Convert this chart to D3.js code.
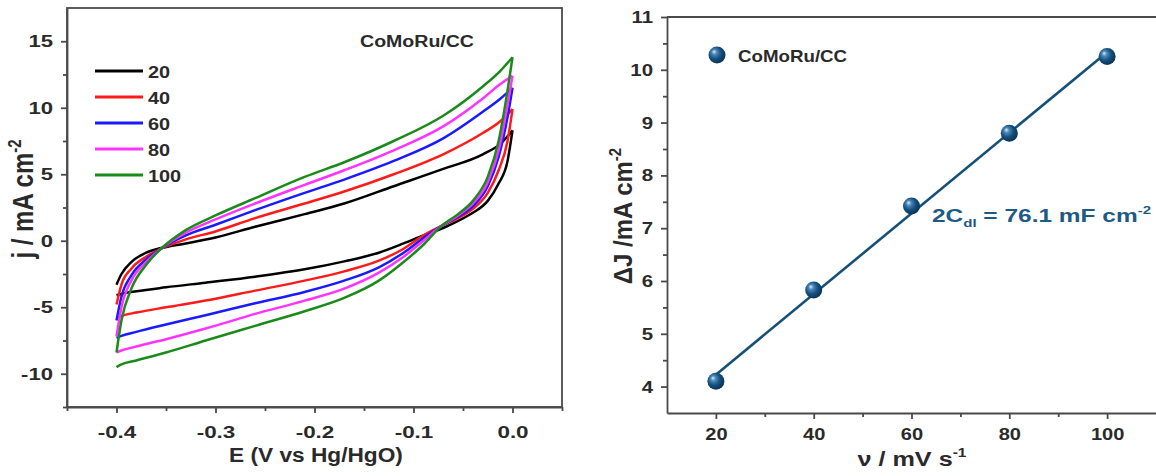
<!DOCTYPE html>
<html>
<head>
<meta charset="utf-8">
<script src="https://cdn.jsdelivr.net/npm/d3@7"></script>
<style>
  body { margin: 0; background: #fff; }
  svg { display: block; font-family: Arial, "Liberation Sans", sans-serif; font-weight: bold; }
  .axis path, .axis line { stroke: #4a4a4a; stroke-width: 1.8; }
  .axis text { fill: #2a2a2a; font-size: 17px; font-weight: bold; font-family: Arial, "Liberation Sans", sans-serif; }
</style>
</head>
<body>
<svg id="canvas" width="1156" height="476"></svg>
<script>
// ---- left panel: CV curves at different scan rates (mV/s) ----
const RATES = [20, 40, 60, 80, 100]
const COLORS = ['#000000', '#ff1a1a', '#1a1aff', '#ff33ff', '#1a8a1a']

// potential grid for the anodic (forward) and cathodic (reverse) branches
const E_FWD = [-0.4, -0.395, -0.385, -0.37, -0.355, -0.33, -0.3, -0.26, -0.21, -0.17, -0.12, -0.07, -0.03, -0.012, 0]
const E_REV = [0, -0.005, -0.014, -0.025, -0.04, -0.055, -0.072, -0.09, -0.11, -0.135, -0.17, -0.21, -0.26, -0.31, -0.35, -0.38, -0.395, -0.4]

const J_FWD_20  = [-3.3, -2.5, -1.6, -0.9, -0.55, -0.2, 0.25, 1.05, 2.0, 2.8, 4.1, 5.4, 6.5, 7.3, 8.3]
const J_FWD_40  = [-4.8, -3.3, -2.1, -1.2, -0.6, 0.1, 0.7, 1.7, 2.8, 3.7, 5.0, 6.5, 8.1, 9.0, 9.9]
const J_FWD_60  = [-6.0, -4.2, -2.6, -1.4, -0.6, 0.4, 1.2, 2.3, 3.6, 4.6, 6.0, 7.7, 9.7, 10.7, 11.5]
const J_FWD_80  = [-7.2, -5.0, -3.0, -1.6, -0.6, 0.6, 1.6, 2.8, 4.2, 5.3, 6.8, 8.6, 10.7, 11.8, 12.4]
const J_FWD_100 = [-8.4, -6.0, -3.6, -1.8, -0.6, 0.8, 1.9, 3.2, 4.8, 5.9, 7.5, 9.4, 11.6, 12.8, 13.8]

const J_REV_20  = [8.3, 6.0, 4.3, 3.0, 2.1, 1.5, 0.9, 0.4, -0.2, -0.9, -1.55, -2.15, -2.7, -3.15, -3.5, -3.8, -4.0, -4.1]
const J_REV_40  = [9.9, 7.5, 5.3, 3.6, 2.4, 1.7, 1.1, 0.4, -0.6, -1.5, -2.3, -3.0, -3.75, -4.5, -5.0, -5.4, -5.65, -5.8]
const J_REV_60  = [11.5, 9.3, 6.3, 4.1, 2.6, 1.8, 1.1, 0.2, -0.9, -2.0, -3.0, -3.85, -4.7, -5.6, -6.3, -6.85, -7.15, -7.3]
const J_REV_80  = [12.4, 10.2, 6.8, 4.4, 2.8, 1.9, 1.1, 0.0, -1.2, -2.4, -3.6, -4.5, -5.5, -6.6, -7.4, -7.95, -8.25, -8.4]
const J_REV_100 = [13.8, 11.3, 7.5, 4.8, 3.0, 2.0, 1.1, -0.3, -1.6, -3.0, -4.3, -5.3, -6.4, -7.5, -8.4, -9.0, -9.3, -9.5]

const J_FWD = [J_FWD_20, J_FWD_40, J_FWD_60, J_FWD_80, J_FWD_100]
const J_REV = [J_REV_20, J_REV_40, J_REV_60, J_REV_80, J_REV_100]

// ---- right panel: capacitive current vs scan rate ----
const SCAN_RATES = [20, 40, 60, 80, 100]
const DELTA_J = [4.1, 5.83, 7.42, 8.8, 10.25]

let canvas = d3.select('#canvas')

let defs = canvas.append('defs')
let grad = defs.append('radialGradient')
    .attr('id', 'ball')
    .attr('cx', '42%').attr('cy', '42%').attr('r', '60%')
    .attr('fx', '32%').attr('fy', '30%')
grad.append('stop').attr('offset', '0%').attr('stop-color', '#dcebf6')
grad.append('stop').attr('offset', '25%').attr('stop-color', '#4a88b8')
grad.append('stop').attr('offset', '60%').attr('stop-color', '#145180')
grad.append('stop').attr('offset', '100%').attr('stop-color', '#0a3152')

// text stretched horizontally like the (widened) source figure
let label = (parent, x, y, size, sx, anchor, fill) => {
    return parent.append('text')
        .attr('transform', 'translate(' + x + ',' + y + ') scale(' + sx + ',1)')
        .attr('text-anchor', anchor)
        .attr('font-size', size)
        .attr('fill', fill || '#2a2a2a')
}

let stretchTicks = (axisG, sx, isLeft) => {
    axisG.selectAll('.tick text')
        .attr('transform', 'scale(' + sx + ',1)')
        .attr('x', function () {
            return isLeft ? +this.getAttribute('x') / sx : 0
        })
}

let minorTicks = (g, axisFn, scale, values, size) => {
    g.append('g')
        .attr('class', 'axis')
        .call(axisFn(scale).tickValues(values).tickSize(size).tickFormat('').tickSizeOuter(0))
        .select('.domain').remove()
}

let drawCV = () => {
    let x = d3.scaleLinear().domain([-0.45, 0.05]).range([67, 562])
    let y = d3.scaleLinear().domain([-12.5, 17.5]).range([407, 8])
    let g = canvas.append('g')

    // frame
    g.append('rect')
        .attr('x', x.range()[0]).attr('y', y.range()[1])
        .attr('width', x.range()[1] - x.range()[0])
        .attr('height', y.range()[0] - y.range()[1])
        .attr('fill', 'none').attr('stroke', '#4a4a4a').attr('stroke-width', 1.8)

    let xAxis = g.append('g').attr('transform', 'translate(0,' + y.range()[0] + ')')
    let xa = xAxis.append('g').attr('class', 'axis')
        .call(d3.axisBottom(x).tickValues([-0.4, -0.3, -0.2, -0.1, 0.0]).tickSize(6).tickSizeOuter(0)
            .tickPadding(13).tickFormat(d => d.toFixed(1)))
    stretchTicks(xa, 1.32, false)
    minorTicks(xAxis, d3.axisBottom, x, [-0.45, -0.35, -0.25, -0.15, -0.05, 0.05], 4)

    let yAxis = g.append('g').attr('transform', 'translate(' + x.range()[0] + ',0)')
    let ya = yAxis.append('g').attr('class', 'axis')
        .call(d3.axisLeft(y).tickValues([-10, -5, 0, 5, 10, 15]).tickSize(6).tickSizeOuter(0)
            .tickPadding(8).tickFormat(d => String(d)))
    stretchTicks(ya, 1.3, true)
    minorTicks(yAxis, d3.axisLeft, y, [-12.5, -7.5, -2.5, 2.5, 7.5, 12.5], 4)

    let line = d3.line()
        .x(d => x(d[0]))
        .y(d => y(d[1]))
        .curve(d3.curveMonotoneX)

    RATES.forEach((r, i) => {
        let fwd = E_FWD.map((e, k) => [e, J_FWD[i][k]])
        let rev = E_REV.map((e, k) => [e, J_REV[i][k]]).reverse()
        g.append('path').attr('d', line(fwd))
            .attr('fill', 'none').attr('stroke', COLORS[i]).attr('stroke-width', 2.5)
        g.append('path').attr('d', line(rev))
            .attr('fill', 'none').attr('stroke', COLORS[i]).attr('stroke-width', 2.5)
    })

    // legend
    let leg = g.selectAll('.leg')
        .data(RATES)
        .enter()
        .append('g')
        .attr('transform', (d, i) => 'translate(95,' + (71 + i * 26) + ')')
    leg.append('line')
        .attr('x1', 0).attr('x2', 48)
        .attr('stroke', (d, i) => COLORS[i]).attr('stroke-width', 3)
    leg.each(function (d) {
        label(d3.select(this), 53, 7, 17, 1.17, 'start').text(d)
    })

    label(g, 417, 47, 17, 1.15, 'middle').text('CoMoRu/CC')

    label(g, 316, 462, 21, 1.08, 'middle').text('E (V vs Hg/HgO)')

    let yt = g.append('text')
        .attr('transform', 'translate(33,199) scale(1.2,1) rotate(-90)')
        .attr('text-anchor', 'middle')
        .attr('font-size', 24).attr('fill', '#2a2a2a')
    yt.append('tspan').text('j / mA cm')
    yt.append('tspan').attr('dy', -10).attr('font-size', 15).text('-2')
}

let drawCdl = () => {
    let x = d3.scaleLinear().domain([10, 110]).range([667, 1156])
    let y = d3.scaleLinear().domain([3.5, 11]).range([413, 17])
    let g = canvas.append('g')

    // top frame line (the right edge is cut off)
    g.append('line')
        .attr('x1', x.range()[0]).attr('x2', x.range()[1])
        .attr('y1', y.range()[1]).attr('y2', y.range()[1])
        .attr('stroke', '#4a4a4a').attr('stroke-width', 1.8)

    let xAxis = g.append('g').attr('transform', 'translate(0,' + y.range()[0] + ')')
    let xa = xAxis.append('g').attr('class', 'axis')
        .call(d3.axisBottom(x).tickValues([20, 40, 60, 80, 100]).tickSize(6).tickSizeOuter(0).tickPadding(9))
    stretchTicks(xa, 1.18, false)
    minorTicks(xAxis, d3.axisBottom, x, [30, 50, 70, 90], 4)

    let yAxis = g.append('g').attr('transform', 'translate(' + x.range()[0] + ',0)')
    let ya = yAxis.append('g').attr('class', 'axis')
        .call(d3.axisLeft(y).tickValues([4, 5, 6, 7, 8, 9, 10, 11]).tickSize(6).tickSizeOuter(0).tickPadding(8))
    stretchTicks(ya, 1.2, true)
    minorTicks(yAxis, d3.axisLeft, y, [4.5, 5.5, 6.5, 7.5, 8.5, 9.5, 10.5], 4)

    // least-squares fit of the points
    let mx = d3.mean(SCAN_RATES), my = d3.mean(DELTA_J)
    let slope = d3.sum(SCAN_RATES, (v, i) => (v - mx) * (DELTA_J[i] - my)) /
                d3.sum(SCAN_RATES, v => (v - mx) * (v - mx))
    let icpt = my - slope * mx
    let x0 = d3.min(SCAN_RATES), x1 = d3.max(SCAN_RATES)
    g.append('line')
        .attr('x1', x(x0)).attr('y1', y(icpt + slope * x0))
        .attr('x2', x(x1)).attr('y2', y(icpt + slope * x1))
        .attr('stroke', '#164f78').attr('stroke-width', 2.6)

    g.selectAll('.pt')
        .data(SCAN_RATES)
        .enter()
        .append('circle')
        .attr('cx', d => x(d))
        .attr('cy', (d, i) => y(DELTA_J[i]))
        .attr('r', 8.5)
        .attr('fill', 'url(#ball)')

    // legend
    g.append('circle').attr('cx', 717).attr('cy', 55).attr('r', 8.5).attr('fill', 'url(#ball)')
    label(g, 738, 62, 16, 1.17, 'start').text('CoMoRu/CC')

    let ann = label(g, 932, 222, 18, 1.36, 'start', '#1d5a86')
    ann.append('tspan').text('2C')
    ann.append('tspan').attr('dy', 5).attr('font-size', 11).text('dl')
    ann.append('tspan').attr('dy', -5).text(' = 76.1 mF cm')
    ann.append('tspan').attr('dy', -8).attr('font-size', 11).text('-2')

    let yt = g.append('text')
        .attr('transform', 'translate(632,216) scale(1.1,1) rotate(-90)')
        .attr('text-anchor', 'middle')
        .attr('font-size', 24).attr('fill', '#2a2a2a')
    yt.append('tspan').text('\u0394J /mA cm')
    yt.append('tspan').attr('dy', -10).attr('font-size', 15).text('-2')

    let xt = label(g, 912, 466, 21, 1.2, 'middle')
    xt.append('tspan').text('\u03bd / mV s')
    xt.append('tspan').attr('dy', -9).attr('font-size', 13).text('-1')
}

drawCV()
drawCdl()
</script>
</body>
</html>
